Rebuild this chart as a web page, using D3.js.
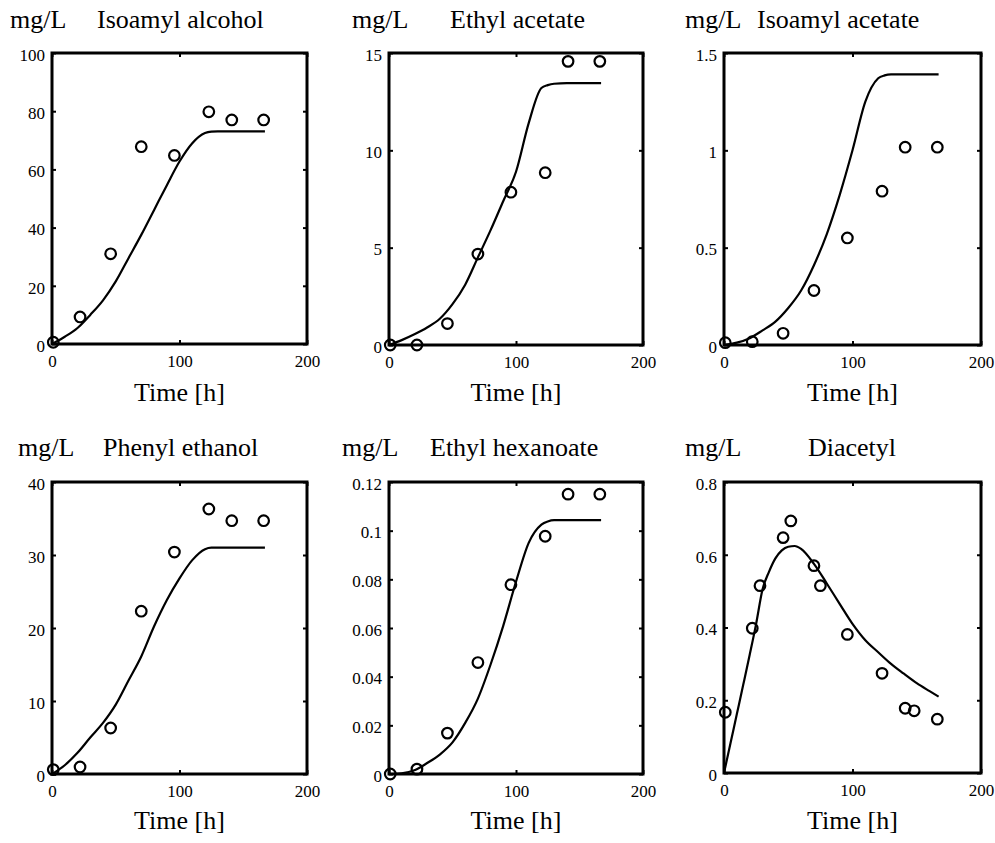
<!DOCTYPE html>
<html><head><meta charset="utf-8">
<script src="https://cdn.jsdelivr.net/npm/d3@7"></script>
<style>
body{margin:0;background:#fff}
svg{display:block}
</style>
</head><body><svg id="chart" width="995" height="843"></svg>
<script>
// ---------- data ----------
const titles = ["Isoamyl alcohol","Ethyl acetate","Isoamyl acetate","Phenyl ethanol","Ethyl hexanoate","Diacetyl"];
const unitLabel = "mg/L";
const xLabel = "Time [h]";
const xTicks = [0,100,200];
const yMaxes = [100,15,1.5,40,0.12,0.8];
const yTicksIsoamylAlcohol = [0,20,40,60,80,100];
const yTicksEthylAcetate = [0,5,10,15];
const yTicksIsoamylAcetate = [0,0.5,1,1.5];
const yTicksPhenylEthanol = [0,10,20,30,40];
const yTicksEthylHexanoate = [0,0.02,0.04,0.06,0.08,0.1,0.12];
const yTicksDiacetyl = [0,0.2,0.4,0.6,0.8];

const measTimes = [1,22,46,70,96,123,141,166];
const isoamylAlcoholMeas = [0.6,9.3,31,67.8,64.8,79.8,77,77];
const ethylAcetateMeas = [0,0,1.1,4.67,7.85,8.85,14.57,14.57];
const isoamylAcetateMeas = [0.012,0.017,0.06,0.28,0.55,0.79,1.016,1.016];
const phenylEthanolMeas = [0.6,0.96,6.3,22.3,30.4,36.3,34.7,34.7];
const ethylHexanoateMeas = [0,0.002,0.0168,0.0458,0.0778,0.0977,0.115,0.115];
const diacetylMeasTimes = [1,22,28,46,52,70,75,96,123,141,148,166];
const diacetylMeas = [0.167,0.398,0.515,0.647,0.693,0.570,0.515,0.381,0.274,0.178,0.171,0.148];

const modelTimes = [0,10,20,30,40,50,60,70,80,90,100,110,120,125,130,140,150,160,167];
const isoamylAlcoholModel = [0,2.5,5.5,10,15,21.5,29.5,37.5,46,54.5,62.7,69,72.5,73,73.1,73.1,73.1,73.1,73.1];
const ethylAcetateModel = [0,0.25,0.55,0.9,1.35,2.1,3.1,4.5,5.9,7.4,8.9,11.4,13.2,13.35,13.42,13.45,13.45,13.45,13.45];
const isoamylAcetateModel = [0,0.012,0.035,0.075,0.12,0.19,0.28,0.41,0.57,0.77,1.0,1.25,1.37,1.385,1.39,1.39,1.39,1.39,1.39];
const phenylEthanolModel = [0,1.2,2.9,5,7,9.5,12.8,16.1,20.2,23.8,26.8,29.3,30.8,31,31,31,31,31,31];
const ethylHexanoateModel = [0,0.0003,0.0015,0.0045,0.008,0.013,0.021,0.031,0.045,0.061,0.079,0.095,0.1025,0.1038,0.1043,0.1043,0.1043,0.1043,0.1043];
const diacetylModelTimes = [0,5,10,15,20,25,30,35,40,45,50,55,60,70,80,90,100,110,120,130,140,150,160,167];
const diacetylModel = [0,0.081,0.162,0.243,0.325,0.41,0.505,0.553,0.59,0.612,0.622,0.624,0.616,0.575,0.521,0.465,0.41,0.365,0.332,0.30,0.273,0.247,0.225,0.21];

// ---------- assemble ----------
const series = [
  {title:titles[0], yMax:yMaxes[0], yTicks:yTicksIsoamylAlcohol, mt:measTimes, mv:isoamylAlcoholMeas, ct:modelTimes, cv:isoamylAlcoholModel},
  {title:titles[1], yMax:yMaxes[1], yTicks:yTicksEthylAcetate, mt:measTimes, mv:ethylAcetateMeas, ct:modelTimes, cv:ethylAcetateModel},
  {title:titles[2], yMax:yMaxes[2], yTicks:yTicksIsoamylAcetate, mt:measTimes, mv:isoamylAcetateMeas, ct:modelTimes, cv:isoamylAcetateModel},
  {title:titles[3], yMax:yMaxes[3], yTicks:yTicksPhenylEthanol, mt:measTimes, mv:phenylEthanolMeas, ct:modelTimes, cv:phenylEthanolModel},
  {title:titles[4], yMax:yMaxes[4], yTicks:yTicksEthylHexanoate, mt:measTimes, mv:ethylHexanoateMeas, ct:modelTimes, cv:ethylHexanoateModel},
  {title:titles[5], yMax:yMaxes[5], yTicks:yTicksDiacetyl, mt:diacetylMeasTimes, mv:diacetylMeas, ct:diacetylModelTimes, cv:diacetylModel}
];

// ---------- layout ----------
const layout = [
  {l:52, r:307, t:53, b:344, unitX:10, titleX:97, titleY:28, xlabY:401},
  {l:389, r:643, t:53, b:345, unitX:352, titleX:450, titleY:28, xlabY:401},
  {l:724, r:981, t:53, b:345, unitX:685, titleX:757, titleY:28, xlabY:401},
  {l:52, r:307, t:482, b:774, unitX:18, titleX:103, titleY:456, xlabY:829},
  {l:389, r:643, t:482, b:774, unitX:342, titleX:430, titleY:456, xlabY:829},
  {l:724, r:981, t:482, b:773, unitX:685, titleX:808, titleY:456, xlabY:829}
];

const FONT = "'Liberation Serif', 'Times New Roman', Times, serif";
const svg = d3.select("#chart");
const fmt = v => String(+v.toFixed(4));

series.forEach((s, i) => {
  const L = layout[i];
  const x = d3.scaleLinear().domain([0,200]).range([L.l, L.r]);
  const y = d3.scaleLinear().domain([0,s.yMax]).range([L.b, L.t]);
  const g = svg.append("g");

  const ax = [
    g.append("g").attr("transform",`translate(0,${L.b})`).call(d3.axisBottom(x).tickValues(xTicks).tickSize(-4).tickPadding(11).tickFormat(fmt)),
    g.append("g").attr("transform",`translate(0,${L.t})`).call(d3.axisTop(x).tickValues(xTicks).tickSize(-4).tickFormat("")),
    g.append("g").attr("transform",`translate(${L.l},0)`).call(d3.axisLeft(y).tickValues(s.yTicks).tickSize(-4).tickPadding(7).tickFormat(fmt)),
    g.append("g").attr("transform",`translate(${L.r},0)`).call(d3.axisRight(y).tickValues(s.yTicks).tickSize(-4).tickFormat(""))
  ];
  ax.forEach(a => {
    a.select(".domain").remove();
    a.attr("font-family", FONT).attr("font-size", 17);
    a.selectAll("line").attr("stroke","#000").attr("stroke-width",2);
    a.selectAll("text").style("font-family", FONT).style("font-size","17px").attr("fill","#000");
  });
  ax[2].selectAll("text").attr("dy","0.43em");

  g.append("rect").attr("x",L.l).attr("y",L.t).attr("width",L.r-L.l).attr("height",L.b-L.t)
    .attr("fill","none").attr("stroke","#000").attr("stroke-width",3);

  const curve = s.ct.map((t,k)=>[t, s.cv[k]]);
  g.append("path").datum(curve)
    .attr("d", d3.line().x(d=>x(d[0])).y(d=>y(d[1])).curve(d3.curveMonotoneX))
    .attr("fill","none").attr("stroke","#000").attr("stroke-width",2.2);

  const pts = s.mt.map((t,k)=>[t, s.mv[k]]);
  g.selectAll("circle.m").data(pts).join("circle")
    .attr("cx", d=>x(d[0])).attr("cy", d=>y(d[1])).attr("r",5.3)
    .attr("fill","none").attr("stroke","#000").attr("stroke-width",2.2);

  const txt = (xx, yy, str, anchor) => g.append("text").attr("x",xx).attr("y",yy)
    .attr("text-anchor", anchor || "start").attr("fill","#000")
    .style("font-family", FONT).style("font-size","26px").text(str);
  txt(L.unitX, L.titleY, unitLabel);
  txt(L.titleX, L.titleY, s.title);
  txt((L.l+L.r)/2, L.xlabY, xLabel, "middle");
});
</script>
</body></html>
